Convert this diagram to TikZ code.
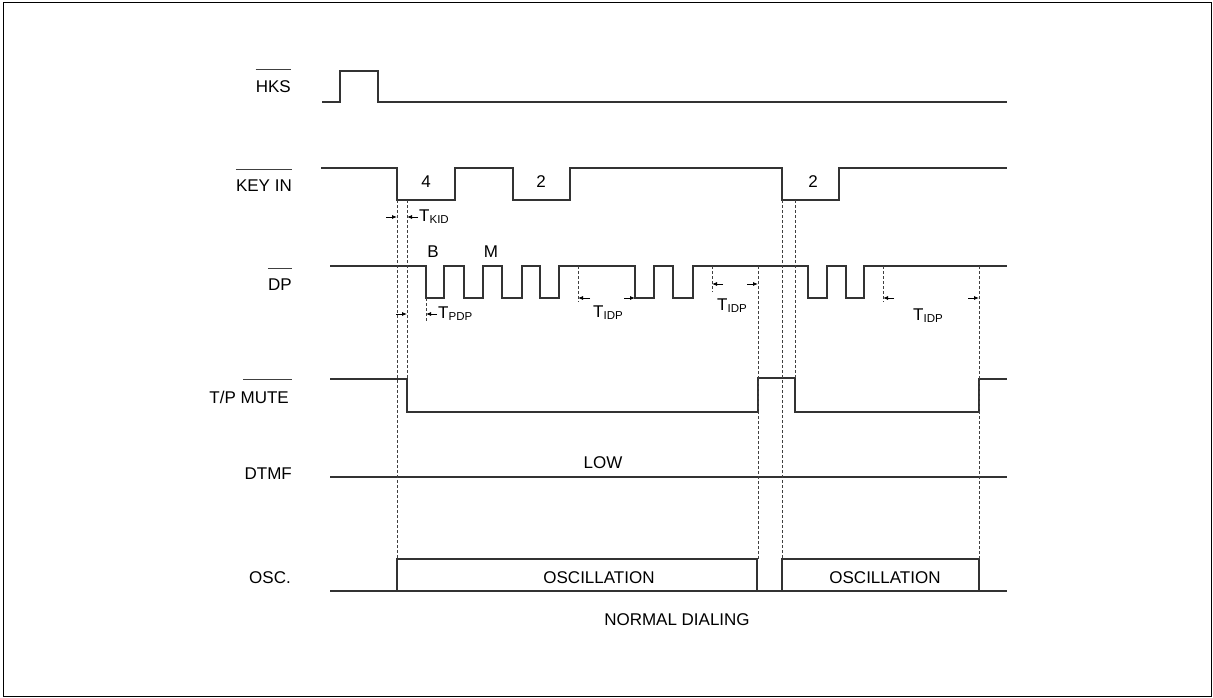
\documentclass[tikz,border=0pt]{standalone}
\usepackage{fontspec}
\setmainfont{Liberation Sans}
\usetikzlibrary{arrows.meta}
\newcommand\Tsub[1]{T\raisebox{-2pt}{\fontsize{11.5}{12}\selectfont #1}}
\tikzset{
  sig/.style={line width=1.3pt, draw=black!80, line join=miter},
  guide/.style={dash pattern=on 3pt off 2pt, line width=0.8pt, draw=black!75},
  dimarrow/.style={-{Latex[length=5pt,width=4pt]}, line width=0.8pt},
  lbl/.style={font=\fontsize{17}{17}\selectfont, inner sep=0pt},
  ovl/.style={line width=0.9pt, draw=black!75},
  frame/.style={line width=1.8pt}
}
\begin{document}
\begin{tikzpicture}[x=1pt,y=-1pt]
\useasboundingbox (0,0) rectangle (1213,698);
\draw[frame] (3.5,2.5) rectangle (1211.5,696.5);

% signal labels
\node[lbl, anchor=east] (lhks) at (291,87) {HKS};
\node[lbl, anchor=east] (lkey) at (292,186) {KEY IN};
\node[lbl, anchor=east] (ldp) at (292,285) {DP};
\node[lbl, anchor=east] (ltp) at (289,397) {T/P MUTE};
\node[lbl, anchor=east] (ldtmf) at (292,474) {DTMF};
\node[lbl, anchor=east] (losc) at (291,578) {OSC.};
\node[lbl, anchor=west, inner sep=0pt] (lmute) at (243,397) {\phantom{MUTE}};
% overlines
\draw[ovl] ([yshift=11pt]lhks.north west) -- ([yshift=11pt]lhks.north east);
\draw[ovl] ([yshift=11pt]lkey.north west) -- ([yshift=11pt]lkey.north east);
\draw[ovl] ([yshift=11pt]ldp.north west) -- ([yshift=11pt]ldp.north east);
\draw[ovl] ([yshift=11pt]lmute.north west) -- ([yshift=11pt]lmute.north east);

% HKS
\draw[sig] (322,102) -- (340,102) -- (340,71) -- (378,71) -- (378,102) -- (1007,102);
% KEY IN
\draw[sig] (321,168) -- (397,168) -- (397,200) -- (455,200) -- (455,168) -- (513,168) -- (513,200) -- (570,200) -- (570,168) -- (782,168) -- (782,200) -- (839,200) -- (839,168) -- (1007,168);
% DP
\draw[sig] (330,266) -- (426,266) -- (426,298) -- (444,298) -- (444,266) -- (464,266) -- (464,298) -- (483,298) -- (483,266) -- (502,266) -- (502,298) -- (522,298) -- (522,266) -- (540,266) -- (540,298) -- (559,298) -- (559,266) -- (635,266) -- (635,298) -- (654,298) -- (654,266) -- (673,266) -- (673,298) -- (693,298) -- (693,266) -- (808,266) -- (808,298) -- (827,298) -- (827,266) -- (846,266) -- (846,298) -- (864,298) -- (864,266) -- (1007,266);
% T/P MUTE
\draw[sig] (330,379) -- (407,379) -- (407,412) -- (758,412) -- (758,378) -- (795,378) -- (795,412) -- (979,412) -- (979,379) -- (1007,379);
% DTMF
\draw[sig] (330,477) -- (1007,477);
% OSC
\draw[sig] (330,591) -- (1007,591);
\draw[sig] (397,591) -- (397,559) -- (757,559) -- (757,591);
\draw[sig] (782,591) -- (782,559) -- (979,559) -- (979,591);

% guides
\draw[guide] (397,200) -- (397,559);
\draw[guide] (407,200) -- (407,379);
\draw[guide] (426,298) -- (426,322);
\draw[guide] (578,266) -- (578,302);
\draw[guide] (712,266) -- (712,292);
\draw[guide] (758,266) -- (758,559);
\draw[guide] (782,200) -- (782,559);
\draw[guide] (795,200) -- (795,378);
\draw[guide] (883,266) -- (883,302);
\draw[guide] (979,266) -- (979,559);

% text on waveforms
\node[lbl] (d4) at (426,182) {4};
\node[lbl] (d2a) at (541,182) {2};
\node[lbl] (d2b) at (813,182) {2};
\node[lbl] (lb) at (433,252) {B};
\node[lbl] (lm) at (491,252) {M};
\node[lbl] (llow) at (603,463) {LOW};
\node[lbl] (osc1) at (599,578) {OSCILLATION};
\node[lbl] (osc2) at (885,578) {OSCILLATION};
\node[lbl] (nd) at (677,620) {NORMAL DIALING};

% timing dimensions
\coordinate (kidA) at (386,217); \coordinate (kidB) at (397,217);
\coordinate (kidC) at (418,217); \coordinate (kidD) at (407,217);
\draw[dimarrow] (kidA) -- (kidB);
\draw[dimarrow] (kidC) -- (kidD);
\node[lbl, anchor=west] (tkid) at (419,217) {\Tsub{KID}};

\coordinate (pdpA) at (396,314); \coordinate (pdpB) at (407,314);
\coordinate (pdpC) at (437,314); \coordinate (pdpD) at (426,314);
\draw[dimarrow] (pdpA) -- (pdpB);
\draw[dimarrow] (pdpC) -- (pdpD);
\node[lbl, anchor=west] (tpdp) at (438,314) {\Tsub{PDP}};

\coordinate (i1A) at (590,298); \coordinate (i1B) at (578,298);
\coordinate (i1C) at (624,298); \coordinate (i1D) at (635,298);
\draw[dimarrow] (i1A) -- (i1B);
\draw[dimarrow] (i1C) -- (i1D);
\node[lbl] (tidp1) at (608,313) {\Tsub{IDP}};

\coordinate (i2A) at (723,284); \coordinate (i2B) at (712,284);
\coordinate (i2C) at (747,284); \coordinate (i2D) at (758,284);
\draw[dimarrow] (i2A) -- (i2B);
\draw[dimarrow] (i2C) -- (i2D);
\node[lbl] (tidp2) at (732,306) {\Tsub{IDP}};

\coordinate (i3A) at (894,298); \coordinate (i3B) at (883,298);
\coordinate (i3C) at (968,298); \coordinate (i3D) at (979,298);
\draw[dimarrow] (i3A) -- (i3B);
\draw[dimarrow] (i3C) -- (i3D);
\node[lbl] (tidp3) at (928,316) {\Tsub{IDP}};
\end{tikzpicture}
\end{document}
